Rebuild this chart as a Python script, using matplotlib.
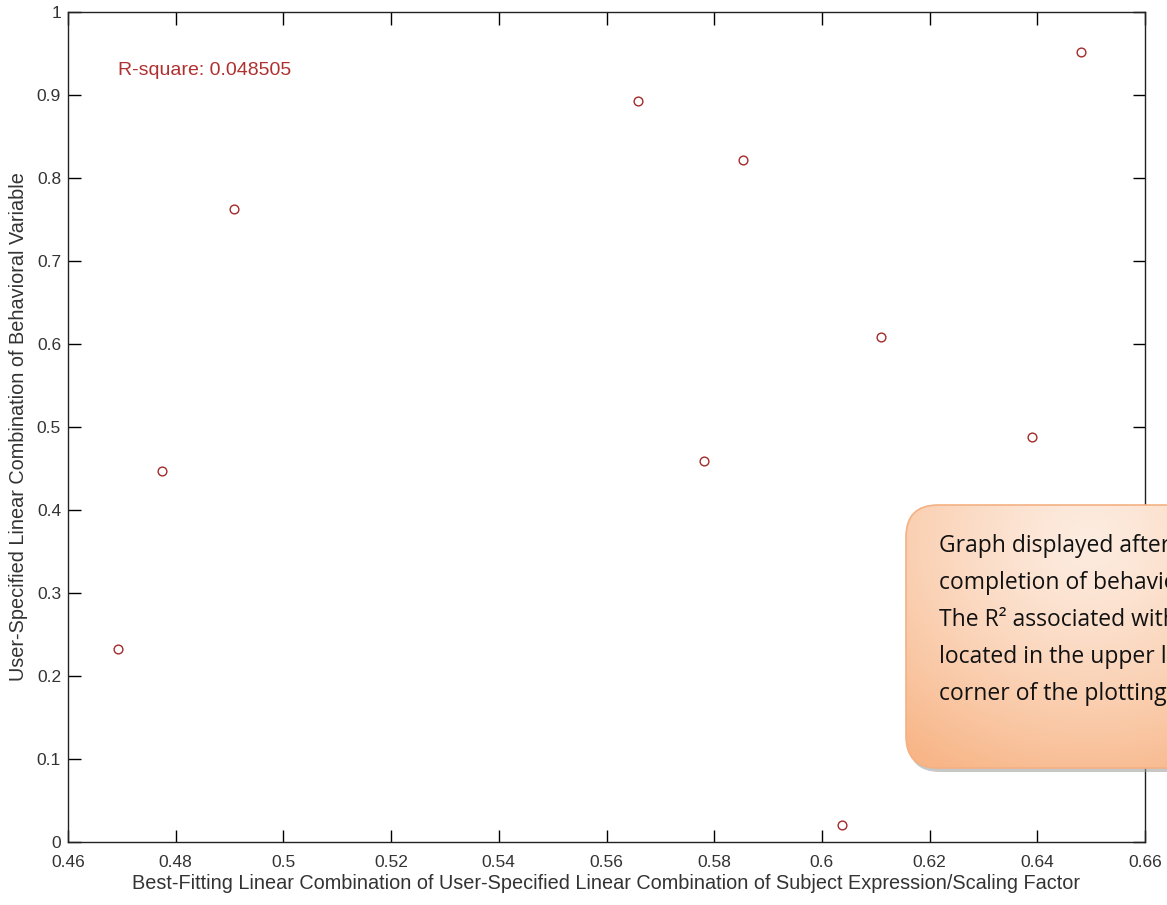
import numpy as np
import matplotlib
matplotlib.use("Agg")
import matplotlib.pyplot as plt
from matplotlib.patches import FancyBboxPatch

# values
x_vals = [0.4693, 0.4775, 0.4909, 0.5659, 0.5781, 0.5854, 0.6038, 0.6109, 0.6391, 0.6482]
y_vals = [0.232, 0.447, 0.763, 0.893, 0.459, 0.822, 0.020, 0.608, 0.488, 0.952]
x_ticks = [0.46, 0.48, 0.50, 0.52, 0.54, 0.56, 0.58, 0.60, 0.62, 0.64, 0.66]
x_tick_labels = ["0.46", "0.48", "0.5", "0.52", "0.54", "0.56", "0.58", "0.6", "0.62", "0.64", "0.66"]
y_ticks = [0, 0.1, 0.2, 0.3, 0.4, 0.5, 0.6, 0.7, 0.8, 0.9, 1]
y_tick_labels = ["0", "0.1", "0.2", "0.3", "0.4", "0.5", "0.6", "0.7", "0.8", "0.9", "1"]
r_square = "R-square: 0.048505"
callout_lines = ["Graph displayed after", "completion of behavioral",
                 "The R\u00b2 associated with", "located in the upper left",
                 "corner of the plotting area."]

W, H = 1167, 905
fig = plt.figure(figsize=(W / 100, H / 100), dpi=100)
fig.patch.set_facecolor("white")

ax = fig.add_axes([68 / W, 1 - 842 / H, (1145 - 68) / W, (842 - 12) / H])
ax.plot(x_vals, y_vals, "o", mfc="none", mec="#a52a2a", ms=6.3, mew=1.0)
ax.set_xlim(0.46, 0.66)
ax.set_ylim(0, 1)
ax.set_xticks(x_ticks)
ax.set_xticklabels(x_tick_labels)
ax.set_yticks(y_ticks)
ax.set_yticklabels(y_tick_labels)
ax.tick_params(direction="in", length=9, width=1, top=True, right=True,
               labelsize=12.5, labelcolor="#333333")
ax.tick_params(axis="x", pad=9)
ax.tick_params(axis="y", pad=5)
for lbl in ax.get_xticklabels() + ax.get_yticklabels():
    lbl.set_family("Liberation Sans")
for s in ax.spines.values():
    s.set_linewidth(1.0)
    s.set_color("#222222")
ax.set_xlabel("Best-Fitting Linear Combination of User-Specified Linear Combination of Subject Expression/Scaling Factor",
              fontsize=14.3, family="Liberation Sans", color="#333333", labelpad=3)
ax.set_ylabel("User-Specified Linear Combination of Behavioral Variable",
              fontsize=14.3, family="Liberation Sans", color="#333333", labelpad=6)
ax.text(0.4693, 0.930, r_square, color="#b03030", fontsize=14,
        family="Liberation Sans", va="center", ha="left")

# callout box on an overlay in pixel coordinates
ov = fig.add_axes([0, 0, 1, 1], zorder=10)
ov.axis("off")
ov.patch.set_alpha(0)

bx, by, bw, bh = 906, 505, 320, 263
shadow = FancyBboxPatch((bx + 2, by + 4), bw, bh, boxstyle="round,pad=0,rounding_size=32",
                        fc="#9a9a9a", ec="none", alpha=0.55, zorder=1)
ov.add_patch(shadow)
box = FancyBboxPatch((bx, by), bw, bh, boxstyle="round,pad=0,rounding_size=32",
                     fc="none", ec="#f4b183", lw=1.2, zorder=3)
ov.add_patch(box)

gx, gy = np.meshgrid(np.linspace(bx, bx + bw, 200), np.linspace(by, by + bh, 200))
d = np.sqrt(((gx - 1090) / 300) ** 2 + ((gy - 540) / 260) ** 2)
t = np.clip(d, 0, 1) ** 1.3
light = np.array([253, 236, 224]) / 255
dark = np.array([248, 182, 136]) / 255
img = light[None, None, :] * (1 - t[..., None]) + dark[None, None, :] * t[..., None]
im = ov.imshow(img, extent=[bx, bx + bw, by + bh, by], origin="upper", aspect="auto",
               interpolation="bilinear", zorder=2)
im.set_clip_path(box)
ov.set_xlim(0, W)
ov.set_ylim(H, 0)

for i, line in enumerate(callout_lines):
    ov.text(939, 546 + i * 37, line, fontsize=16.5, family="Open Sans",
            color="#111111", va="center", ha="left", zorder=5)

fig.savefig("out.png", dpi=100)
